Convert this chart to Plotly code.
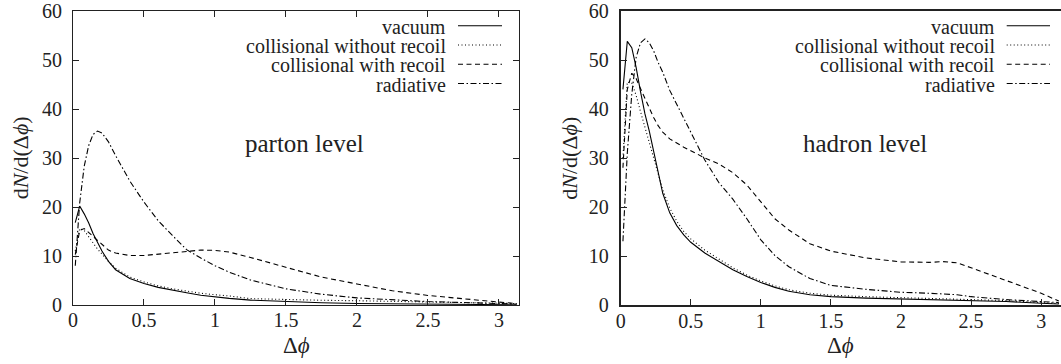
import math
import plotly.graph_objects as go

# ---------------- data ----------------
# parton level
dphi_parton = [0.016, 0.047, 0.079, 0.110, 0.141, 0.173, 0.204, 0.25, 0.3, 0.4, 0.5,
               0.6, 0.7, 0.8, 0.9, 1.0, 1.1, 1.25, 1.5, 1.75, 2.0, 2.25, 2.5, 2.75,
               3.0, 3.126]
parton_vacuum = [16.8, 20.2, 18.6, 16.8, 14.6, 12.6, 11.0, 8.9, 7.2, 5.4, 4.4,
                 3.6, 3.0, 2.5, 2.0, 1.65, 1.35, 1.0, 0.65, 0.45, 0.32, 0.23, 0.16, 0.11,
                 0.07, 0.05]
parton_coll_norecoil = [11.0, 15.6, 15.2, 13.9, 12.6, 11.4, 10.4, 8.9, 7.5, 5.7, 4.7,
                        3.9, 3.3, 2.8, 2.4, 2.1, 1.85, 1.3, 1.1, 0.97, 0.87, 0.77, 0.67, 0.57,
                        0.45, 0.3]
parton_coll_recoil = [10.3, 15.2, 15.6, 14.8, 13.9, 13.0, 12.2, 11.2, 10.6, 10.1, 10.1,
                      10.4, 10.75, 11.0, 11.2, 11.15, 10.8, 9.7, 7.7, 5.7, 4.3, 2.9, 1.95, 1.2,
                      0.6, 0.3]
parton_radiative = [8.0, 20.8, 28.3, 32.5, 34.8, 35.5, 35.1, 33.3, 30.5, 25.3, 21.0,
                    17.2, 14.2, 11.3, 9.6, 8.0, 6.7, 5.1, 3.3, 2.2, 1.45, 1.0, 0.7, 0.5,
                    0.3, 0.2]

# hadron level
dphi_hadron = [0.016, 0.047, 0.079, 0.110, 0.141, 0.173, 0.204, 0.236, 0.267, 0.3, 0.35,
               0.4, 0.45, 0.5, 0.6, 0.7, 0.8, 0.9, 1.0, 1.1, 1.2, 1.35, 1.5, 1.75, 2.0,
               2.2, 2.3, 2.4, 2.5, 2.75, 3.0, 3.126]
hadron_vacuum = [44.0, 53.8, 52.5, 48.5, 43.6, 39.0, 35.5, 31.2, 26.6, 22.8, 18.8,
                 16.2, 14.3, 12.8, 10.6, 8.9, 7.2, 5.8, 4.6, 3.6, 2.8, 2.1, 1.7, 1.4, 1.25,
                 1.15, 1.1, 1.0, 0.95, 0.7, 0.35, 0.2]
hadron_coll_norecoil = [30.0, 45.5, 45.3, 42.8, 39.5, 36.2, 33.0, 29.8, 26.5, 23.5, 19.8,
                        17.1, 15.0, 13.5, 11.2, 9.4, 7.6, 6.1, 4.9, 3.9, 3.1, 2.4, 2.0, 1.7, 1.5,
                        1.4, 1.35, 1.25, 1.15, 0.9, 0.5, 0.3]
hadron_coll_recoil = [28.0, 44.0, 47.3, 46.2, 44.2, 42.2, 40.0, 38.2, 36.6, 35.3, 33.9,
                      33.0, 32.2, 31.5, 30.0, 28.8, 27.0, 24.5, 21.0, 17.6, 15.3, 12.5, 11.0, 9.6, 8.8,
                      8.7, 8.85, 8.6, 7.6, 4.95, 2.4, 0.8]
hadron_radiative = [13.0, 31.0, 43.0, 50.5, 53.5, 54.3, 53.5, 51.8, 49.5, 47.5, 43.8,
                    41.0, 38.3, 35.2, 29.6, 25.0, 21.6, 17.6, 13.3, 10.1, 7.8, 5.4, 4.0, 3.2, 2.6,
                    2.4, 2.3, 2.1, 1.7, 1.1, 0.7, 0.5]

series_names = ["vacuum", "collisional without recoil", "collisional with recoil", "radiative"]
y_ticks = [0, 10, 20, 30, 40, 50, 60]
x_ticks = [0, 0.5, 1, 1.5, 2, 2.5, 3]
x_tick_text = ["0", "0.5", "1", "1.5", "2", "2.5", "3"]
panel_labels = ["parton level", "hadron level"]

# ---------------- styling ----------------
FONT = "Liberation Serif"
TXT = "#222222"
W, H = 1061, 364
ML, MR, MT, MB = 73, 0, 7, 59
PW, PH = W - ML - MR, H - MT - MB
DASHES = ["solid", "1px,2.5px", "5px,3.5px", "6px,2.5px,1.5px,2.5px"]


def px_x(p):
    return (p - ML) / PW


def px_y(p):
    return (H - MB - p) / PH


left_dom = [0, px_x(519)]
right_dom = [px_x(620.7), 1]

fig = go.Figure()

panels = [
    (dphi_parton, [parton_vacuum, parton_coll_norecoil, parton_coll_recoil, parton_radiative], "x", "y"),
    (dphi_hadron, [hadron_vacuum, hadron_coll_norecoil, hadron_coll_recoil, hadron_radiative], "x2", "y2"),
]
for xs, curves, xa, ya in panels:
    for name, ys, dash in zip(series_names, curves, DASHES):
        fig.add_trace(go.Scatter(
            x=xs, y=ys, mode="lines", name=name, showlegend=False,
            xaxis=xa, yaxis=ya,
            line=dict(color="black", width=1.1, dash=dash),
        ))

axis_common = dict(
    showline=True, linecolor="#222", ticks="inside", ticklen=6, tickcolor="#222",
    showgrid=False, zeroline=False, ticklabeloverflow="allow",
    tickfont=dict(family=FONT, size=20, color=TXT),
)

fig.update_layout(
    width=W, height=H,
    margin=dict(l=ML, r=MR, t=MT, b=MB),
    paper_bgcolor="white", plot_bgcolor="white",
    showlegend=False,
    xaxis=dict(domain=left_dom, range=[0, math.pi], tickvals=x_ticks, ticktext=x_tick_text,
               mirror="ticks", linewidth=1, ticklabelstandoff=-3, anchor="y", **axis_common),
    yaxis=dict(domain=[0, 1], range=[0, 60], tickvals=y_ticks, mirror="ticks", linewidth=1,
               ticklabelstandoff=6, anchor="x", **axis_common),
    xaxis2=dict(domain=right_dom, range=[0, math.pi], tickvals=x_ticks, ticktext=x_tick_text,
                mirror=True, linewidth=1.8, ticklabelstandoff=-3, anchor="y2", **axis_common),
    yaxis2=dict(domain=[0, 1], range=[0, 60], tickvals=y_ticks, mirror=False, linewidth=1.8,
                ticklabelstandoff=6, anchor="x2", **axis_common),
)

# axis titles
ytitle = "d<i>N</i>/d(Δ<i>ϕ</i>)"
xtitle = "Δ<i>ϕ</i>"
for xa, ya, xoff in [("x", "y", -0.118), ("x2", "y2", -0.118)]:
    fig.add_annotation(text=ytitle, xref=f"{xa} domain", yref=f"{ya} domain",
                       x=xoff, y=0.5, textangle=-90, showarrow=False,
                       xanchor="center", yanchor="middle",
                       font=dict(family=FONT, size=22, color=TXT))
    fig.add_annotation(text=xtitle, xref=f"{xa} domain", yref=f"{ya} domain",
                       x=0.5, y=-0.138, showarrow=False,
                       xanchor="center", yanchor="middle",
                       font=dict(family=FONT, size=23, color=TXT))

# panel labels
fig.add_annotation(text=panel_labels[0], xref="x", yref="y", x=1.2, y=32.9,
                   showarrow=False, xanchor="left", yanchor="middle",
                   font=dict(family=FONT, size=25, color=TXT))
fig.add_annotation(text=panel_labels[1], xref="x2", yref="y2", x=1.285, y=32.9,
                   showarrow=False, xanchor="left", yanchor="middle",
                   font=dict(family=FONT, size=25, color=TXT))

# key: right-aligned labels with line samples to their right
rows_px = [22, 41.5, 61, 80.5]
for text_right, s0, s1 in [(448.3, 458, 502), (996.7, 1006.7, 1050)]:
    for name, dash, ry in zip(series_names, DASHES, rows_px):
        fig.add_annotation(text=name, xref="paper", yref="paper",
                           x=px_x(text_right), y=px_y(ry + 1), showarrow=False,
                           xanchor="right", yanchor="middle",
                           font=dict(family=FONT, size=20, color=TXT))
        fig.add_shape(type="line", xref="paper", yref="paper",
                      x0=px_x(s0), x1=px_x(s1), y0=px_y(ry), y1=px_y(ry),
                      line=dict(color="black", width=1.1, dash=dash))

fig.write_html("out.html")
